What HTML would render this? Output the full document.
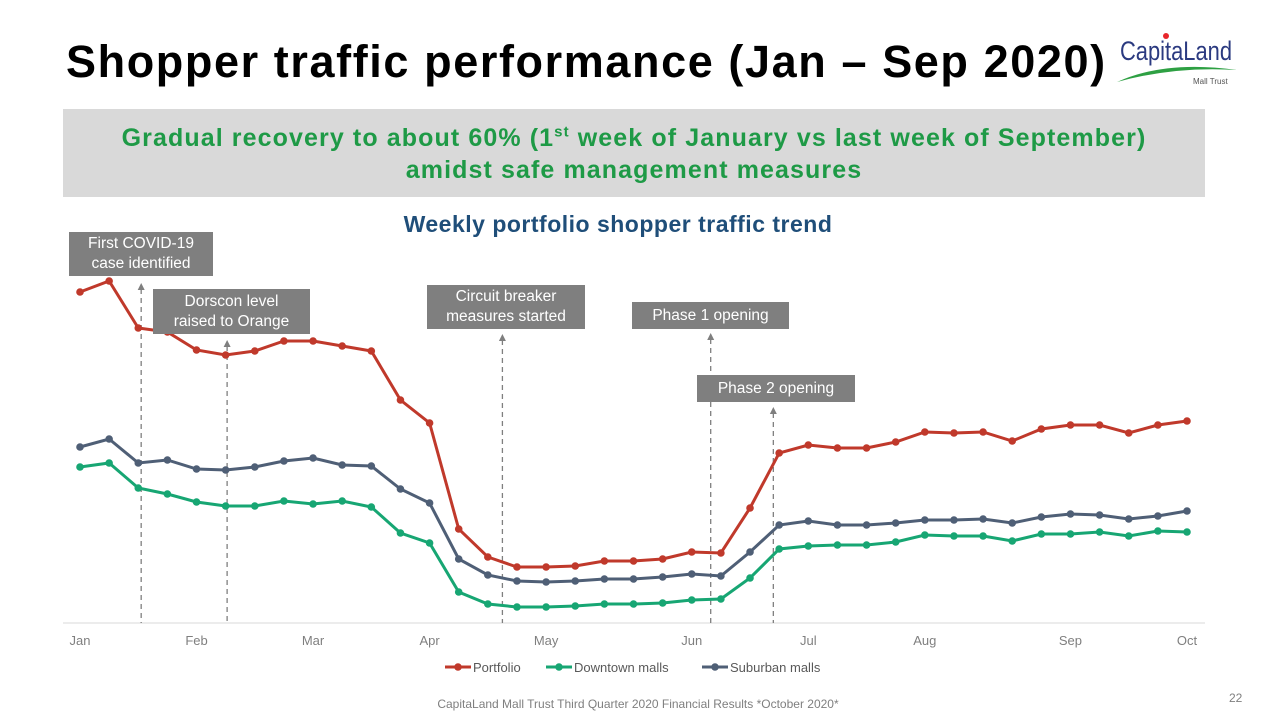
<!DOCTYPE html>
<html><head><meta charset="utf-8"><style>
body{margin:0;background:#fff;font-family:"Liberation Sans",sans-serif;}
#page{position:relative;width:1271px;height:714px;overflow:hidden;background:#fff;}
.ann{position:absolute;background:#7f7f7f;color:#fff;font-size:15.5px;text-align:center;line-height:20px;display:flex;align-items:center;justify-content:center;}
</style></head><body>
<div id="page">
<div style="position:absolute;left:66px;top:36px;font-size:45px;font-weight:bold;color:#000;white-space:nowrap;letter-spacing:1.6px">Shopper traffic performance (Jan – Sep 2020)</div>
<div style="position:absolute;left:1105px;top:20px;width:135px;height:70px">
<svg width="135" height="70"><circle cx="61" cy="16" r="3" fill="#e8262b"/><text x="15" y="40" font-family="Liberation Sans Narrow,Liberation Sans,sans-serif" font-size="27" fill="#2b3a80" textLength="112" lengthAdjust="spacingAndGlyphs">CapitaLand</text><path d="M12 62 Q60 40 132 50 Q70 46 12 62Z" fill="#2ea043"/><text x="88" y="64" font-size="8" fill="#555">Mall Trust</text></svg></div>
<div style="position:absolute;left:63px;top:109px;width:1142px;height:88px;background:#d9d9d9;color:#1e9a46;font-weight:bold;font-size:25px;letter-spacing:1.1px;text-align:center;line-height:32px;padding-top:13px;box-sizing:border-box">Gradual recovery to about 60% (1<sup style="font-size:15px;line-height:0">st</sup> week of January vs last week of September)<br>amidst safe management measures</div>
<div style="position:absolute;left:0;width:1236px;top:211px;text-align:center;font-size:23px;letter-spacing:0.5px;font-weight:bold;color:#1f4e79">Weekly portfolio shopper traffic trend</div>
<svg id="chart" width="1271" height="714" style="position:absolute;left:0;top:0"></svg>
<div class="ann" style="left:69px;top:232px;width:144px;height:44px">First COVID-19<br>case identified</div>
<div class="ann" style="left:153px;top:289px;width:157px;height:45px">Dorscon level<br>raised to Orange</div>
<div class="ann" style="left:427px;top:285px;width:158px;height:44px">Circuit breaker<br>measures started</div>
<div class="ann" style="left:632px;top:302px;width:157px;height:27px">Phase 1 opening</div>
<div class="ann" style="left:697px;top:375px;width:158px;height:27px">Phase 2 opening</div>
<div style="position:absolute;left:0;width:1276px;top:697px;text-align:center;font-size:12px;color:#7f7f7f">CapitaLand Mall Trust Third Quarter 2020 Financial Results *October 2020*</div>
<div style="position:absolute;left:1229px;top:691px;font-size:12px;color:#7f7f7f">22</div>
</div>
<script>
const months=["Jan","Feb","Mar","Apr","May","Jun","Jul","Aug","Sep","Oct"];
const monthWeek=[0,4,8,12,16,21,25,29,34,38];
const portfolio=[331,342,295,291,273,268,272,282,282,277,272,223,200,94,66,56,56,57,62,62,64,71,70,115,170,178,175,175,181,191,190,191,182,194,198,198,190,198,202];
const downtown=[156,160,135,129,121,117,117,122,119,122,116,90,80,31,19,16,16,17,19,19,20,23,24,45,74,77,78,78,81,88,87,87,82,89,89,91,87,92,91];
const suburban=[176,184,160,163,154,153,156,162,165,158,157,134,120,64,48,42,41,42,44,44,46,49,47,71,98,102,98,98,100,103,103,104,100,106,109,108,104,107,112];
const eventWeeks=[2.1,5.05,14.5,21.65,23.8];
const eventTops=[283,340,334,333,407];
const svg=document.getElementById('chart');
const NS='http://www.w3.org/2000/svg';
const x0=80,x1=1187,yBase=623,nW=portfolio.length;
const X=w=>x0+(x1-x0)*w/(nW-1);
const Y=v=>yBase-v;
function mk(t,a){const e=document.createElementNS(NS,t);for(const k in a)e.setAttribute(k,a[k]);svg.appendChild(e);return e;}
let ax=mk('line',{x1:63,x2:1205,y1:yBase,y2:yBase,stroke:'#d9d9d9','stroke-width':1});


months.forEach((m,i)=>{const t=mk('text',{x:X(monthWeek[i]),y:645,'text-anchor':'middle','font-size':13,fill:'#7f7f7f','font-family':'Liberation Sans,sans-serif'});t.textContent=m;

});
eventWeeks.forEach((w,i)=>{const l=mk('line',{x1:X(w),x2:X(w),y1:eventTops[i]+6,y2:yBase,stroke:'#7f7f7f','stroke-width':1.3,'stroke-dasharray':'5,4'});


const p=mk('path',{d:`M${X(w)-3.5} ${eventTops[i]+7}L${X(w)} ${eventTops[i]}L${X(w)+3.5} ${eventTops[i]+7}Z`,fill:'#7f7f7f'});

});
const series=[[portfolio,'#c0392b','portfolio'],[downtown,'#17a673','downtown-malls'],[suburban,'#4f5f76','suburban-malls']];
series.forEach(([d,c,n])=>{const pl=mk('polyline',{points:d.map((v,i)=>X(i)+','+Y(v)).join(' '),fill:'none',stroke:c,'stroke-width':3});


d.forEach((v,i)=>{const ci=mk('circle',{cx:X(i),cy:Y(v),r:3.8,fill:c});

});});
const leg=[['Portfolio',445,'#c0392b'],['Downtown malls',546,'#17a673'],['Suburban malls',702,'#4f5f76']];
leg.forEach(([t,x,c])=>{const g=mk('g',{});
const l=document.createElementNS(NS,'line');l.setAttribute('x1',x);l.setAttribute('x2',x+26);l.setAttribute('y1',667);l.setAttribute('y2',667);l.setAttribute('stroke',c);l.setAttribute('stroke-width',3);g.appendChild(l);
const ci=document.createElementNS(NS,'circle');ci.setAttribute('cx',x+13);ci.setAttribute('cy',667);ci.setAttribute('r',3.8);ci.setAttribute('fill',c);g.appendChild(ci);
const tx=document.createElementNS(NS,'text');tx.setAttribute('x',x+28);tx.setAttribute('y',672);tx.setAttribute('font-size',13);tx.setAttribute('fill','#595959');tx.setAttribute('font-family','Liberation Sans,sans-serif');tx.textContent=t;g.appendChild(tx);});
</script>
</body></html>
